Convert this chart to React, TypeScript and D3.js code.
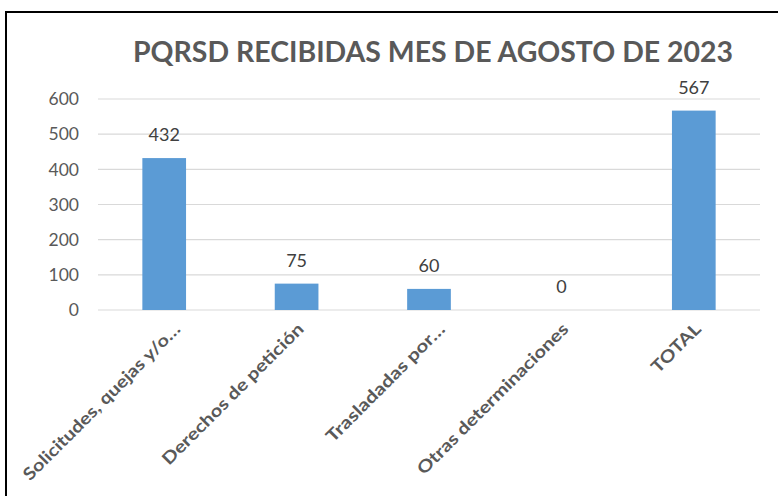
import React from "react";
import * as d3 from "d3";

const categories = ["Solicitudes, quejas y/o…", "Derechos de petición", "Trasladadas por…", "Otras determinaciones", "TOTAL"];
const values = [432, 75, 60, 0, 567];
const labelLengths = [214, 192, 160, 206, 62];
const yTicks = [0, 100, 200, 300, 400, 500, 600];
const title = "PQRSD RECIBIDAS MES DE AGOSTO DE 2023";

const W = 778, H = 496;
const FONT = "Lato, 'Open Sans', sans-serif";

export default function App() {
  const x = d3.scaleBand<string>().domain(categories).range([98, 760]).paddingInner(0.67).paddingOuter(0.335);
  const y = d3.scaleLinear().domain([0, 600]).range([310, 99]);
  const bw = x.bandwidth();
  return (
    <svg width={W} height={H} style={{ position: "absolute", left: 0, top: 0, background: "#fff" }}>
      <rect x={6} y={12} width={W + 10} height={H + 10} fill="#fff" stroke="#000" strokeWidth={2} />
      <text x={433} y={62} textAnchor="middle" fontFamily={FONT} fontWeight="bold" fontSize={29} fill="#595959" textLength={600} lengthAdjust="spacingAndGlyphs">{title}</text>
      {yTicks.map(t => (
        <g key={t}>
          <line x1={98} x2={760} y1={y(t)} y2={y(t)} stroke="#d9d9d9" strokeWidth={1.2} />
          <text x={79} y={y(t)} dy="0.36em" textAnchor="end" fontFamily={FONT} fontSize={17.5} fill="#595959">{t}</text>
        </g>
      ))}
      {categories.map((c, i) => {
        const cx = (x(c) as number) + bw / 2;
        const off = c.endsWith("…") ? 13 : 4;
        return (
          <g key={c}>
            <rect x={x(c)} y={y(values[i])} width={bw} height={y(0) - y(values[i])} fill="#5b9bd5" />
            <text x={cx} y={y(values[i]) - 17} textAnchor="middle" fontFamily={FONT} fontSize={18} fill="#404040">{values[i]}</text>
            <text transform={`translate(${cx + off},${326}) rotate(-45)`} textAnchor="end" dy="0.35em" fontFamily={FONT} fontWeight="bold" fontSize={17} fill="#595959" textLength={labelLengths[i]} lengthAdjust="spacingAndGlyphs">{c}</text>
          </g>
        );
      })}
    </svg>
  );
}
